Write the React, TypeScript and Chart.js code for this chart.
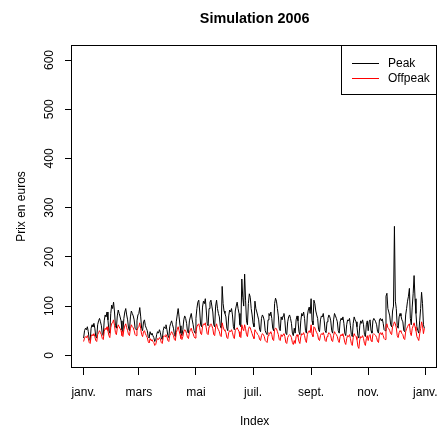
import React, { useEffect, useRef } from "react";
import { Chart, registerables } from "chart.js";

Chart.register(...registerables);

// ---- Data (daily values, 2006) ----
const peakJan = [35, 50, 55, 52, 58, 48, 32, 30, 55, 62, 58, 65, 55, 38, 35, 62, 70, 75, 68, 60, 42, 40, 70, 82, 78, 88, 72, 50, 45, 85, 102];
const peakFeb = [95, 108, 88, 60, 55, 80, 92, 85, 78, 70, 52, 48, 75, 88, 95, 82, 72, 55, 50, 78, 90, 85, 80, 72, 55, 52, 70, 82];
const peakMar = [85, 97, 78, 55, 50, 68, 72, 60, 55, 50, 38, 35, 48, 42, 45, 40, 36, 28, 30, 42, 48, 45, 52, 46, 35, 32, 50, 58, 55, 62, 52];
const peakApr = [40, 36, 58, 65, 70, 62, 55, 42, 38, 68, 82, 95, 78, 60, 45, 40, 52, 72, 80, 75, 65, 48, 45, 70, 78, 85, 72, 62, 50, 45];
const peakMay = [75, 95, 108, 112, 90, 62, 58, 98, 110, 105, 115, 92, 65, 60, 95, 108, 112, 100, 88, 62, 58, 100, 112, 95, 85, 78, 60, 55, 140, 105, 90];
const peakJun = [85, 78, 55, 50, 80, 92, 88, 95, 82, 58, 52, 90, 100, 108, 95, 85, 62, 58, 155, 118, 100, 165, 112, 70, 62, 105, 125, 118, 95, 82];
const peakJul = [65, 58, 110, 95, 88, 80, 72, 52, 48, 75, 82, 78, 70, 50, 45, 42, 72, 85, 80, 88, 75, 55, 50, 105, 116, 110, 95, 80, 55, 50, 78];
const peakAug = [72, 80, 85, 70, 45, 42, 68, 78, 82, 75, 65, 45, 40, 55, 45, 72, 80, 70, 48, 42, 70, 85, 80, 88, 75, 50, 45, 80, 92, 98, 85];
const peakSep = [115, 70, 62, 112, 105, 90, 82, 75, 52, 48, 72, 80, 78, 85, 70, 50, 46, 68, 75, 82, 78, 70, 50, 45, 72, 85, 80, 75, 68, 50];
const peakOct = [45, 68, 75, 72, 78, 65, 45, 40, 62, 72, 70, 75, 60, 42, 38, 65, 78, 72, 68, 58, 40, 35, 60, 70, 65, 72, 62, 42, 38, 62, 70];
const peakNov = [50, 68, 72, 50, 45, 70, 75, 72, 68, 62, 48, 45, 72, 75, 70, 74, 65, 52, 50, 120, 126, 95, 88, 80, 62, 58, 90, 100, 262, 110];
const peakDec = [95, 60, 55, 78, 85, 80, 72, 68, 50, 48, 82, 95, 110, 120, 136, 75, 62, 98, 125, 162, 115, 85, 58, 50, 45, 70, 95, 128, 105, 62, 55];

const offJan = [28, 35, 38, 36, 40, 34, 26, 24, 38, 42, 40, 44, 38, 30, 28, 42, 46, 50, 46, 42, 34, 32, 48, 55, 52, 58, 50, 40, 36, 56, 65];
const offFeb = [66, 72, 60, 46, 42, 55, 62, 58, 54, 50, 40, 38, 52, 60, 64, 56, 50, 42, 40, 54, 62, 58, 56, 50, 42, 40, 50, 56];
const offMar = [58, 66, 54, 42, 38, 48, 50, 44, 40, 36, 28, 25, 34, 30, 32, 28, 26, 20, 22, 30, 34, 32, 36, 33, 26, 24, 36, 40, 38, 42, 38];
const offApr = [30, 28, 40, 44, 48, 44, 40, 32, 30, 46, 52, 58, 50, 42, 34, 32, 38, 48, 52, 50, 44, 36, 34, 46, 52, 55, 48, 44, 38, 35];
const offMay = [48, 58, 62, 64, 56, 44, 42, 58, 64, 62, 66, 56, 44, 42, 58, 62, 64, 60, 54, 42, 40, 58, 64, 56, 52, 48, 40, 38, 66, 58, 52];
const offJun = [50, 46, 36, 34, 46, 50, 48, 52, 46, 38, 34, 50, 54, 56, 52, 48, 38, 36, 62, 54, 50, 62, 54, 42, 38, 52, 58, 56, 50, 44];
const offJul = [38, 34, 52, 48, 46, 42, 40, 32, 30, 40, 44, 42, 38, 30, 28, 26, 40, 46, 44, 48, 42, 32, 30, 52, 55, 54, 48, 42, 32, 30, 42];
const offAug = [38, 42, 44, 38, 26, 24, 36, 40, 42, 40, 36, 26, 22, 30, 24, 38, 42, 38, 28, 24, 38, 44, 42, 46, 40, 30, 26, 42, 48, 50, 46];
const offSep = [62, 42, 38, 58, 56, 50, 46, 42, 32, 30, 40, 44, 42, 46, 40, 30, 28, 38, 42, 46, 44, 40, 30, 28, 40, 48, 44, 42, 38, 30];
const offOct = [26, 38, 42, 40, 44, 36, 26, 22, 34, 40, 38, 42, 34, 24, 20, 36, 44, 40, 38, 32, 18, 14, 32, 38, 36, 40, 34, 24, 20, 34, 40];
const offNov = [30, 40, 42, 30, 28, 42, 44, 42, 40, 36, 28, 26, 44, 46, 42, 46, 40, 34, 32, 60, 64, 56, 54, 50, 44, 42, 58, 62, 68, 64];
const offDec = [56, 40, 36, 46, 50, 48, 44, 42, 34, 32, 48, 54, 58, 62, 64, 46, 40, 54, 60, 66, 58, 50, 38, 34, 30, 44, 54, 68, 60, 44, 55];

const peak = [...peakJan, ...peakFeb, ...peakMar, ...peakApr, ...peakMay, ...peakJun, ...peakJul, ...peakAug, ...peakSep, ...peakOct, ...peakNov, ...peakDec];
const offpeak = [...offJan, ...offFeb, ...offMar, ...offApr, ...offMay, ...offJun, ...offJul, ...offAug, ...offSep, ...offOct, ...offNov, ...offDec];

const monthTickDays = [0, 59, 120, 181, 243, 304, 365];
const monthTickLabels = ["janv.", "mars", "mai", "juil.", "sept.", "nov.", "janv."];
const yTickValues = [0, 100, 200, 300, 400, 500, 600];

const seriesNames = ["Peak", "Offpeak"];
const seriesColors = ["#000000", "#FF0000"];
const chartTitle = "Simulation 2006";
const xTitle = "Index";
const yTitle = "Prix en euros";

const FONT = '"Liberation Sans", Arial, Helvetica, sans-serif';

const decorPlugin = {
  id: "decor",
  afterDraw(chart: any) {
    const { ctx, chartArea: ca } = chart;
    ctx.save();
    const L = Math.round(ca.left) - 0.5;
    const T = Math.round(ca.top) + 0.5;
    const R = Math.round(ca.right) - 0.5;
    const B = Math.round(ca.bottom) - 0.5;
    ctx.strokeStyle = "#000";
    ctx.lineWidth = 1;
    ctx.strokeRect(L, T, R - L, B - T);

    const cx = (ca.left + ca.right) / 2;
    const cy = (ca.top + ca.bottom) / 2;
    ctx.fillStyle = "#000";
    ctx.textAlign = "center";
    ctx.textBaseline = "alphabetic";
    ctx.font = `bold 14.4px ${FONT}`;
    ctx.fillText(chartTitle, cx, 23);
    ctx.font = `12px ${FONT}`;
    ctx.fillText(xTitle, cx, 425);
    ctx.save();
    ctx.translate(25, cy);
    ctx.rotate(-Math.PI / 2);
    ctx.fillText(yTitle, 0, 0);
    ctx.restore();

    // legend (top-right, inside plot)
    const lx0 = 341.5;
    const ly0 = T;
    const lw = R - lx0;
    const lh = 49;
    ctx.fillStyle = "#fff";
    ctx.fillRect(lx0, ly0, lw, lh);
    ctx.strokeRect(lx0, ly0, lw, lh);
    ctx.font = `12px ${FONT}`;
    ctx.textAlign = "left";
    ctx.textBaseline = "middle";
    seriesNames.forEach((name, i) => {
      const y = 63.5 + i * 15;
      ctx.strokeStyle = seriesColors[i];
      ctx.beginPath();
      ctx.moveTo(352, y);
      ctx.lineTo(379, y);
      ctx.stroke();
      ctx.fillStyle = "#000";
      ctx.fillText(name, 388, y);
    });
    ctx.restore();
  },
};

export default function App() {
  const canvasRef = useRef<HTMLCanvasElement | null>(null);
  useEffect(() => {
    if (!canvasRef.current) return;
    const mk = (arr: number[]) => arr.map((v, i) => ({ x: i, y: v }));
    const chart = new Chart(canvasRef.current, {
      type: "line",
      data: {
        datasets: [
          {
            label: seriesNames[0],
            data: mk(peak),
            borderColor: seriesColors[0],
            borderWidth: 1,
            pointRadius: 0,
            tension: 0,
            fill: false,
            order: 1,
          },
          {
            label: seriesNames[1],
            data: mk(offpeak),
            borderColor: seriesColors[1],
            borderWidth: 1,
            pointRadius: 0,
            tension: 0,
            fill: false,
            order: 0,
          },
        ],
      },
      options: {
        animation: false,
        responsive: false,
        devicePixelRatio: 1,
        events: [],
        layout: { padding: { top: 45, right: 0.7, left: 0, bottom: 0 } },
        plugins: {
          legend: { display: false },
          title: { display: false },
          tooltip: { enabled: false },
        },
        scales: {
          x: {
            type: "linear",
            min: -12.4,
            max: 377.8,
            afterBuildTicks: (s: any) => {
              s.ticks = monthTickDays.map((v) => ({ value: v }));
            },
            afterFit: (s: any) => {
              s.height = 62;
              s.paddingLeft = 0;
              s.paddingRight = 0;
            },
            ticks: {
              autoSkip: false,
              maxRotation: 0,
              minRotation: 0,
              padding: 10,
              color: "#000",
              font: { family: FONT, size: 12 },
              callback: (v: any) => monthTickLabels[monthTickDays.indexOf(Number(v))],
            },
            grid: {
              display: true,
              drawOnChartArea: false,
              drawTicks: true,
              tickLength: 7,
              color: "#000",
              lineWidth: 1,
            },
            border: { display: false },
          },
          y: {
            type: "linear",
            min: -25.8,
            max: 630.5,
            afterBuildTicks: (s: any) => {
              s.ticks = yTickValues.map((v) => ({ value: v }));
            },
            afterFit: (s: any) => {
              s.width = 72;
              s.paddingTop = 0;
              s.paddingBottom = 0;
            },
            ticks: {
              autoSkip: false,
              minRotation: 90,
              maxRotation: 90,
              crossAlign: "center",
              padding: 5,
              color: "#000",
              font: { family: FONT, size: 12 },
              callback: (v: any) => String(v),
            },
            grid: {
              display: true,
              drawOnChartArea: false,
              drawTicks: true,
              tickLength: 7,
              color: "#000",
              lineWidth: 1,
            },
            border: { display: false },
          },
        },
      },
      plugins: [decorPlugin],
    } as any);
    return () => chart.destroy();
  }, []);

  return (
    <div style={{ position: "fixed", left: 0, top: 0, width: 438, height: 430, background: "#fff" }}>
      <canvas ref={canvasRef} width={438} height={430} style={{ display: "block" }} />
    </div>
  );
}
